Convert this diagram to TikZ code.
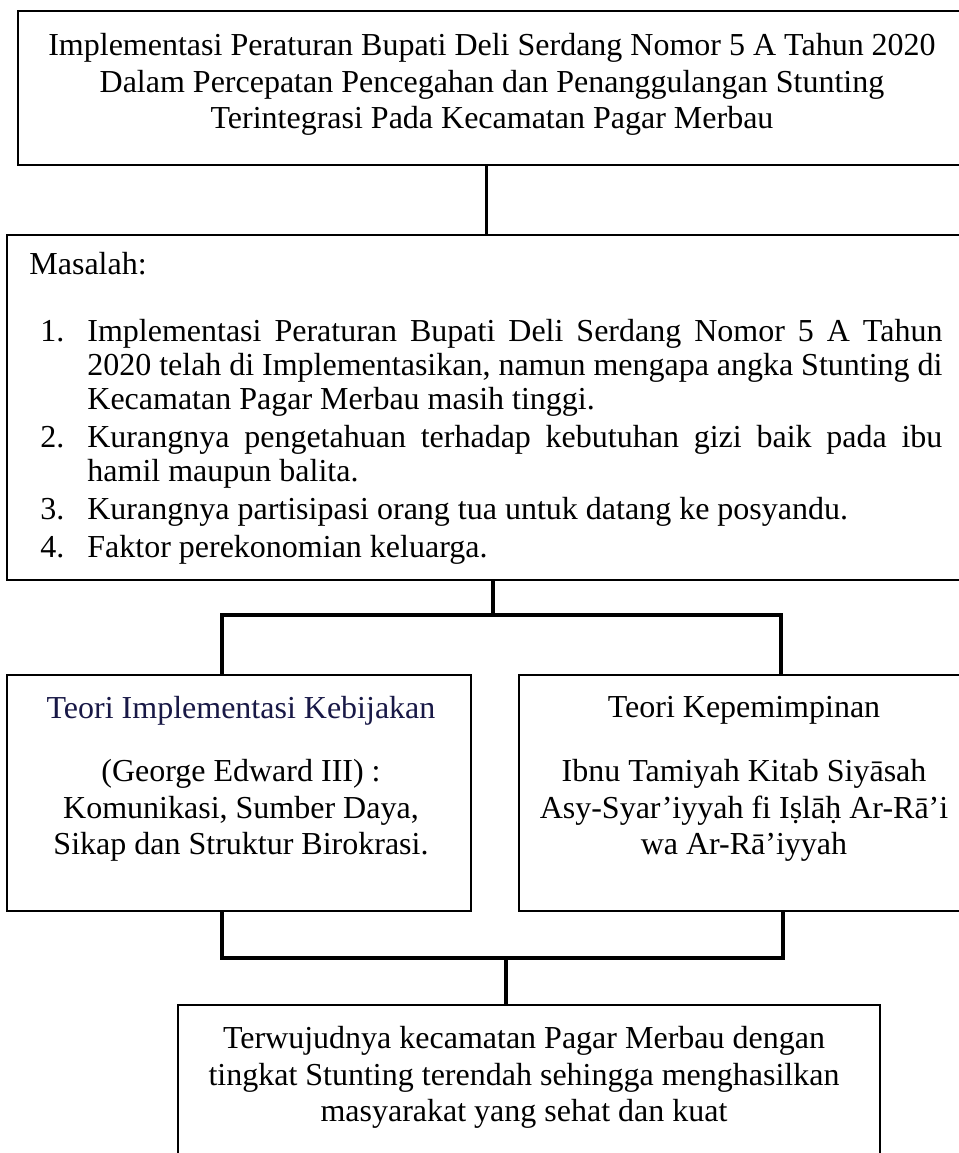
\documentclass[tikz,border=0pt]{standalone}
\usepackage{fontspec}
\setmainfont{Liberation Serif}
\definecolor{biru}{RGB}{24,24,70}

\begin{document}
\begin{tikzpicture}[x=0.5pt,y=-0.5pt,
  kotak/.style={draw,line width=1pt,inner sep=0pt},
  teks/.style={inner sep=0pt,font=\fontsize{16}{18.3}\selectfont,align=center},
  garis/.style={line width=1.6pt}]

\useasboundingbox (0,0) rectangle (959,1153);

\node[kotak,line width=1.2pt,minimum width=474pt,minimum height=77pt] (judul) at (492,88) {};
\node[teks,anchor=north] (judul-t) at (492,33) {Implementasi Peraturan Bupati Deli Serdang Nomor 5 A Tahun 2020\\
Dalam Percepatan Pencegahan dan Penanggulangan Stunting\\
Terintegrasi Pada Kecamatan Pagar Merbau};

\node[kotak,minimum width=479.5pt,minimum height=172.5pt] (masalah) at (486.5,407.5) {};
\node[teks,anchor=north west] (masalah-t) at (29,252) {Masalah:};
\node[teks,anchor=north west,text width=451pt,align=justify,font=\fontsize{16}{17}\selectfont] (masalah-l) at (40,319) {\parindent=0pt\parskip=2pt
\hangindent=23.5pt\hangafter=1\makebox[23.5pt][l]{1.}Implementasi Peraturan Bupati Deli Serdang Nomor 5 A Tahun\linebreak
2020 telah di Implementasikan, namun mengapa angka Stunting di\linebreak
Kecamatan Pagar Merbau masih tinggi.\par
\hangindent=23.5pt\hangafter=1\makebox[23.5pt][l]{2.}Kurangnya pengetahuan terhadap kebutuhan gizi baik pada ibu\linebreak
hamil maupun balita.\par
\hangindent=23.5pt\hangafter=1\makebox[23.5pt][l]{3.}Kurangnya partisipasi orang tua untuk datang ke posyandu.\par
\hangindent=23.5pt\hangafter=1\makebox[23.5pt][l]{4.}Faktor perekonomian keluarga.\par};

\node[kotak,minimum width=232pt,minimum height=118pt] (teori1) at (239,793) {};
\node[teks,anchor=north,text=biru] (teori1-j) at (241,696) {Teori Implementasi Kebijakan};
\node[teks,anchor=north] (teori1-t) at (241,759) {(George Edward III) :\\
Komunikasi, Sumber Daya,\\
Sikap dan Struktur Birokrasi.};

\node[kotak,minimum width=225pt,minimum height=118pt] (teori2) at (744,793) {};
\node[teks,anchor=north] (teori2-j) at (744,696) {Teori Kepemimpinan};
\node[teks,anchor=north] (teori2-t) at (744,759) {Ibnu Tamiyah Kitab Siyāsah\\
Asy-Syar’iyyah fi Iṣlāḥ Ar-Rā’i\\
wa Ar-Rā’iyyah};

\node[kotak,minimum width=351pt,minimum height=80pt] (hasil) at (529,1085) {};
\node[teks,anchor=north] (hasil-t) at (524,1026) {Terwujudnya kecamatan Pagar Merbau dengan\\
tingkat Stunting terendah sehingga menghasilkan\\
masyarakat yang sehat dan kuat};

\coordinate (atas) at (493,615);
\coordinate (ka1) at (222,615);
\coordinate (ka2) at (781,615);
\coordinate (bawah) at (506,958);
\coordinate (kb1) at (222,958);
\coordinate (kb2) at (783,958);

\draw[garis] (judul.south -| masalah.north) -- (masalah.north);
\draw[garis] (masalah.south -| atas) -- (atas);
\draw[garis] (teori1.north -| ka1) -- (ka1) -- (ka2) -- (teori2.north -| ka2);
\draw[garis] (teori1.south -| kb1) -- (kb1) -- (kb2) -- (teori2.south -| kb2);
\draw[garis] (bawah) -- (hasil.north -| bawah);

\end{tikzpicture}
\end{document}
